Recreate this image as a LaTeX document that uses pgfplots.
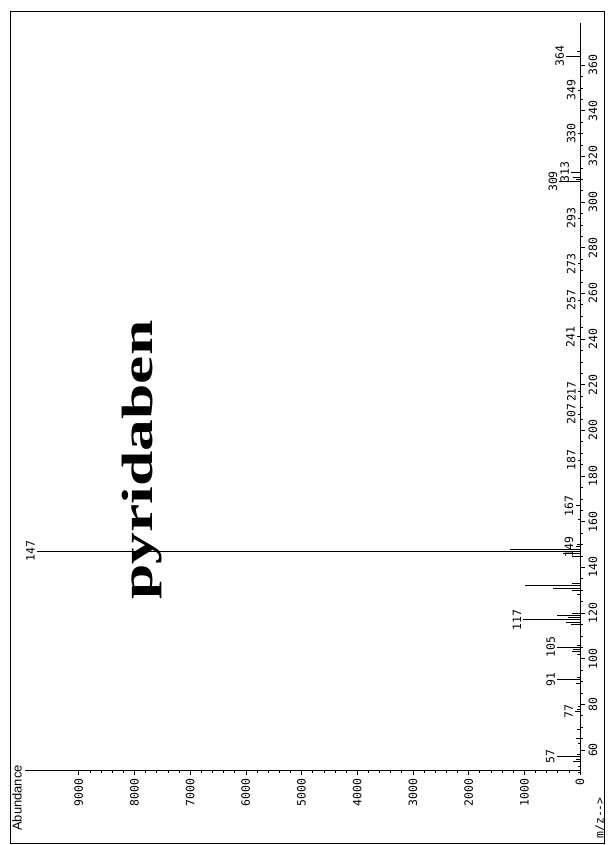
\documentclass[border=0pt]{standalone}
\usepackage{pgfplots}
\pgfplotsset{compat=1.18}
\usepackage{fontspec}
\usepackage{graphicx}
\setmainfont{Liberation Serif}
\newfontfamily\tickfont{DejaVu Sans Mono}
\newfontfamily\labfont{Liberation Sans}
\begin{document}
\begin{tikzpicture}
\begin{axis}[
  scale only axis, width=555bp, height=747bp,
  x dir=reverse,
  xmin=0, xmax=9964, ymin=51.2, ymax=378.4,
  axis x line*=bottom, axis y line*=right,
  clip=false,
  xtick={0,1000,...,9000}, ytick={60,80,...,360},
  minor x tick num=4, minor y tick num=3,
  tick align=outside,
  major tick length=5bp, minor tick length=2.5bp,
  tick style={black, line width=0.6pt},
  axis line style={black, line width=0.9pt},
  scaled x ticks=false,
  /pgf/number format/assume math mode=true,
  /pgf/number format/1000 sep={},
  xticklabel style={rotate=90, anchor=east, font=\tickfont\fontsize{11.5}{12}\selectfont},
  yticklabel style={rotate=90, anchor=north, font=\tickfont\fontsize{11.5}{12}\selectfont},
]
\addplot[xcomb, black, line width=0.8pt] coordinates {
(30,50) (60,51) (40,53) (120,55) (80,56) (420,57) (60,58) (40,63) (80,65) (50,69)
(90,77) (60,78) (40,79) (80,89) (410,91) (60,92) (60,102) (150,103) (120,104) (410,105) (60,106)
(160,115) (250,116) (1020,117) (220,118) (420,119) (140,120) (60,128) (150,130) (480,131) (980,132) (150,133)
(150,145) (300,146) (9750,147) (1260,148) (80,149) (60,150) (40,161) (80,167) (40,187) (40,207) (40,217)
(60,241) (40,257) (40,273) (40,293) (370,309) (80,310) (120,311) (160,313) (40,330) (40,349) (250,364) (60,366)
};
\foreach \a/\m in {420/57, 90/77, 410/91, 410/105, 1020/117, 9750/147, 80/149, 80/167, 40/187, 40/207, 40/217, 60/241, 40/257, 40/273, 40/293, 370/309, 160/313, 40/330, 40/349, 250/364}{
  \edef\tmp{\noexpand\node[rotate=90, anchor=south, inner sep=2pt, font=\noexpand\tickfont\noexpand\fontsize{11.5}{12}\noexpand\selectfont] at (axis cs:\a,\m) {\m};}
  \tmp
}
\node[rotate=90, anchor=center, font=\bfseries\fontsize{44}{44}\selectfont] at (axis cs:7864,187) {\scalebox{1.45}[1]{pyridaben}};
\node[rotate=90, anchor=east, inner sep=0pt, font=\labfont\fontsize{13}{13}\selectfont] at (axis cs:10108,53.4) {Abundance};
\node[rotate=90, anchor=east, inner sep=0pt, font=\tickfont\fontsize{11.5}{12}\selectfont] at (axis cs:-359,39.4) {m/z-->};
\draw[black, line width=0.8pt] (axis cs:10233,19.3) rectangle (axis cs:-431,383.3);
\coordinate (bbsw) at (axis cs:10413,18.4);
\coordinate (bbne) at (axis cs:-485,388.5);
\end{axis}
\pgfresetboundingbox
\path[use as bounding box] (bbsw) rectangle (bbne);
\end{tikzpicture}
\end{document}
